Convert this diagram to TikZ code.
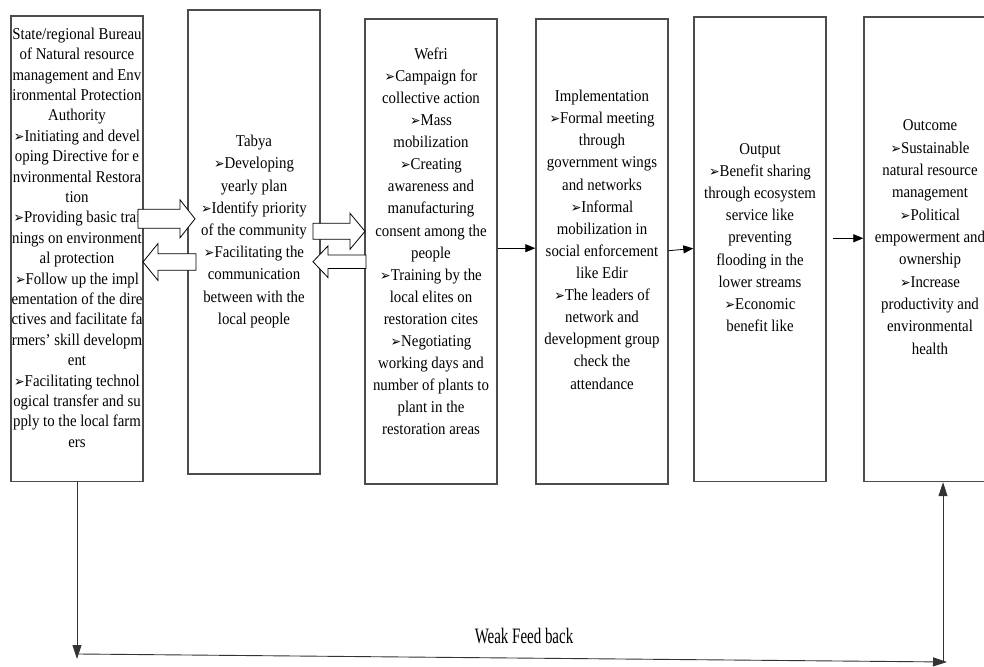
\documentclass[tikz,border=0pt]{standalone}
\usepackage{graphicx}
\usepackage{fontspec}
\setmainfont{Liberation Serif}
\newfontfamily\dvfont{DejaVu Sans}
\usetikzlibrary{arrows.meta,calc}
\newcommand{\bul}{{\dvfont\fontsize{14}{14}\selectfont ➢}}
\newcommand{\boxtext}[2]{\scalebox{0.9}[1]{\fontsize{16.5}{#1}\selectfont\begin{tabular}[t]{@{}c@{}}#2\end{tabular}}}
\newcommand{\blockarr}[6]{\draw[blk] (#1,#4-#5) -- (#2,#4-#5) -- (#2,#4-#6) -- (#3,#4) -- (#2,#4+#6) -- (#2,#4+#5) -- (#1,#4+#5) -- cycle;}
\begin{document}
\begin{tikzpicture}[x=1pt,y=-1pt,
  box/.style={draw=black!70,line width=1.4pt,inner sep=0pt,minimum width=132pt},
  txt/.style={anchor=base,inner sep=0pt},
  blk/.style={draw=black,line width=0.8pt,fill=white,line join=miter},
  conn/.style={draw=black,line width=0.8pt,-{Triangle[length=10pt,width=8pt]}},
  fb/.style={draw=black!80,line width=0.9pt,-{Triangle[length=14pt,width=9pt]}}]
\useasboundingbox (0,0) rectangle (984,666);
\clip (0,0) rectangle (984,666);
% boxes
\node[box,minimum height=465.5pt] (b1) at (77,248.75) {};
\node[box,minimum height=464pt] (b2) at (254,242) {};
\node[box,minimum height=465pt] (b3) at (431,251.5) {};
\node[box,minimum height=465pt] (b4) at (602,251.5) {};
\node[box,minimum height=464.5pt] (b5) at (760,249.25) {};
\node[box,minimum height=464.5pt] (b6) at (930,249.25) {};
% texts
\node[txt] (t1) at (77,39.3) {\boxtext{20.4}{State/regional Bureau\\ of Natural resource\\ management and Env\\ ironmental Protection\\ Authority\\ \bul Initiating and devel\\ oping Directive for e\\ nvironmental Restora\\ tion\\ \bul Providing basic trai\\ nings on environment\\ al protection\\ \bul Follow up the impl\\ ementation of the dire\\ ctives and facilitate fa\\ rmers’ skill developm\\ ent\\ \bul Facilitating technol\\ ogical transfer and su\\ pply to the local farm\\ ers}};
\node[txt] (t2) at (254,146.7) {\boxtext{22.2}{Tabya\\ \bul Developing\\ yearly plan\\ \bul Identify priority\\ of the community\\ \bul Facilitating the\\ communication\\ between with the\\ local people}};
\node[txt] (t3) at (431,59.3) {\boxtext{22.1}{Wefri\\ \bul Campaign for\\ collective action\\ \bul Mass\\ mobilization\\ \bul Creating\\ awareness and\\ manufacturing\\ consent among the\\ people\\ \bul Training by the\\ local elites on\\ restoration cites\\ \bul Negotiating\\ working days and\\ number of plants to\\ plant in the\\ restoration areas}};
\node[txt] (t4) at (602,101.7) {\boxtext{22.1}{Implementation\\ \bul Formal meeting\\ through\\ government wings\\ and networks\\ \bul Informal\\ mobilization in\\ social enforcement\\ like Edir\\ \bul The leaders of\\ network and\\ development group\\ check the\\ attendance}};
\node[txt] (t5) at (760,154) {\boxtext{22.2}{Output\\ \bul Benefit sharing\\ through ecosystem\\ service like\\ preventing\\ flooding in the\\ lower streams\\ \bul Economic\\ benefit like}};
\node[txt] (t6) at (930,131) {\boxtext{22.3}{Outcome\\ \bul Sustainable\\ natural resource\\ management\\ \bul Political\\ empowerment and\\ ownership\\ \bul Increase\\ productivity and\\ environmental\\ health}};
% block arrows between b1-b2 and b2-b3
\blockarr{138}{180}{195}{218.8}{9.5}{19}
\blockarr{196}{158}{143}{262}{8.3}{18.5}
\blockarr{313}{350}{365}{231.3}{8}{18}
\blockarr{366}{328}{313}{261.7}{6.7}{15.8}
% simple connectors
\draw[conn] ([yshift=3.3pt]b3.east) -- ([yshift=3.3pt]b4.west);
\draw[conn] ([yshift=0.8pt]b4.east) -- ([yshift=0.8pt]b5.west);
\draw[conn] ([xshift=6pt,yshift=11pt]b5.east) -- ([yshift=11pt]b6.west);
% feedback loop
\coordinate (fbD) at (77,659);
\coordinate (fbL) at (79,654);
\coordinate (fbE) at (947,662);
\coordinate (fbR) at (943,662);
\draw[fb] (b1.south) -- (fbD);
\draw[fb] (fbL) -- (fbE);
\draw[fb] (fbR) -- (fbR |- b6.south);
\node[txt] (fbt) at (524,643) {\scalebox{0.68}[1]{\fontsize{22}{22}\selectfont Weak Feed back}};
\end{tikzpicture}
\end{document}
